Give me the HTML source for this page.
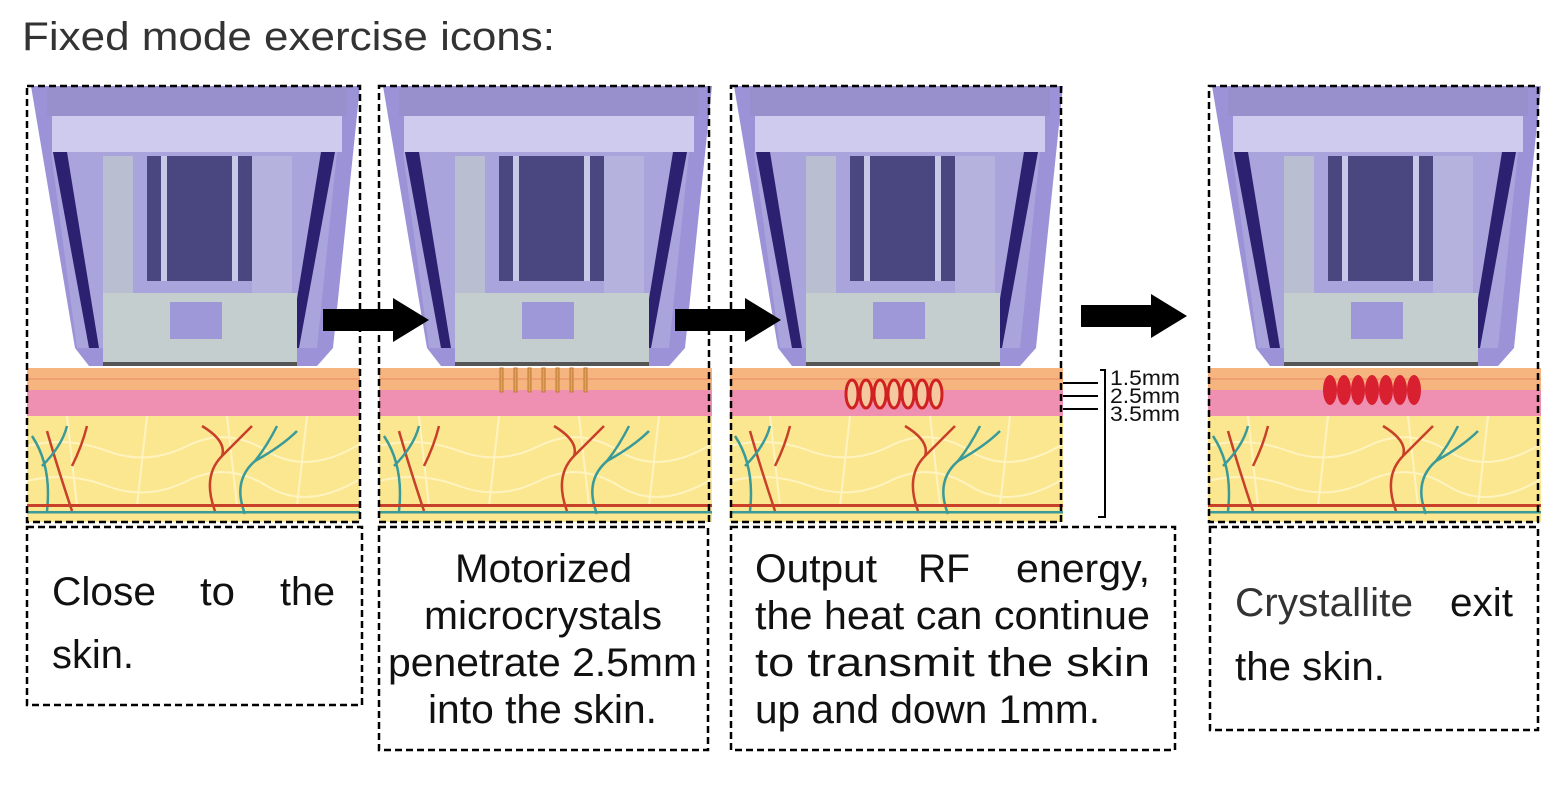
<!DOCTYPE html>
<html><head><meta charset="utf-8"><style>
html,body{margin:0;padding:0;background:#fff;}
body{width:1552px;height:796px;overflow:hidden;position:relative;}
</style></head><body>
<svg width="1552" height="796" style="position:absolute;left:0;top:0">
<defs>
<g id="p">
<polygon points="0,0 333,0 333,282 0,282" fill="#fff"/>
<polygon points="4,0 333,0 306,262 290,280 62,280 48,262" fill="#9b92d8"/>
<rect x="20" y="0" width="300" height="30" fill="#9890cc"/>
<rect x="25" y="30" width="290" height="36" fill="#cfcbee"/>
<polygon points="24,66 310,66 290,262 50,262" fill="#aaa4dc"/>
<polygon points="26,66 40,66 72,262 62,262" fill="#2b2170"/>
<polygon points="308,66 294,66 262,262 272,262" fill="#2b2170"/>
<rect x="76" y="70" width="30" height="137" fill="#b9bfd0"/>
<rect x="120" y="70" width="105" height="125" fill="#4a4680"/>
<rect x="134" y="70" width="6" height="125" fill="#c8c8e8"/>
<rect x="205" y="70" width="6" height="125" fill="#c8c8e8"/>
<rect x="225" y="70" width="40" height="137" fill="#b6b2de"/>
<rect x="76" y="207" width="194" height="72" fill="#c4cece"/>
<rect x="76" y="276" width="194" height="4" fill="#555"/>
<rect x="143" y="216" width="52" height="37" fill="#9f98d8"/>
<rect x="0" y="282" width="333" height="22" fill="#f6b47e"/>
<rect x="0" y="292" width="333" height="2" fill="#f0a070"/>
<rect x="0" y="304" width="333" height="26" fill="#ef90b3"/>
<rect x="0" y="330" width="333" height="106" fill="#fbe790"/>
<g fill="none" stroke="#fff3c0" stroke-width="2">
<path d="M0,360 Q40,350 80,365 T160,360 T240,365 T333,358"/>
<path d="M0,395 Q40,385 80,400 T160,395 T240,400 T333,393"/>
<path d="M40,330 L50,420 M120,330 L110,420 M200,330 L210,420 M280,330 L270,420"/>
</g>
<g fill="none" stroke-width="2.5">
<path d="M45,425 Q30,380 20,345 M45,380 Q55,360 60,340" stroke="#c8402a"/>
<path d="M20,425 Q25,380 5,350 M15,380 Q35,360 40,340" stroke="#3a9a98"/>
<path d="M188,425 Q175,390 195,370 Q200,355 175,340 M195,370 Q210,355 225,340" stroke="#c8402a"/>
<path d="M218,428 Q205,395 228,375 Q240,360 250,340 M228,375 Q255,360 270,345" stroke="#3a9a98"/>
</g>
<rect x="0" y="418" width="333" height="3" fill="#c8402a"/>
<rect x="0" y="425" width="333" height="2.5" fill="#3a9a98"/>
</g>
<g id="ar"><rect x="0" y="-11" width="75" height="22" fill="#000"/><polygon points="70,-22 106,0 70,22" fill="#000"/></g>
</defs>
<use href="#p" x="27" y="86"/>
<use href="#p" x="379" y="86"/>
<use href="#p" x="730" y="86"/>
<use href="#p" x="1208" y="86"/>
<g fill="#e0a060" stroke="#c07a30" stroke-width="1">
<rect x="500" y="368" width="3" height="24"/><rect x="514" y="368" width="3" height="24"/><rect x="528" y="368" width="3" height="24"/><rect x="542" y="368" width="3" height="24"/><rect x="556" y="368" width="3" height="24"/><rect x="570" y="368" width="3" height="24"/><rect x="584" y="368" width="3" height="24"/>
</g>
<g fill="#f5c8a0" stroke="#d02020" stroke-width="3">
<ellipse cx="852" cy="394" rx="6" ry="14"/><ellipse cx="866" cy="394" rx="6" ry="14"/><ellipse cx="880" cy="394" rx="6" ry="14"/><ellipse cx="894" cy="394" rx="6" ry="14"/><ellipse cx="908" cy="394" rx="6" ry="14"/><ellipse cx="922" cy="394" rx="6" ry="14"/><ellipse cx="936" cy="394" rx="6" ry="14"/>
</g>
<g fill="#d82030">
<ellipse cx="1330" cy="390" rx="7" ry="15"/><ellipse cx="1344" cy="390" rx="7" ry="15"/><ellipse cx="1358" cy="390" rx="7" ry="15"/><ellipse cx="1372" cy="390" rx="7" ry="15"/><ellipse cx="1386" cy="390" rx="7" ry="15"/><ellipse cx="1400" cy="390" rx="7" ry="15"/><ellipse cx="1414" cy="390" rx="7" ry="15"/>
</g>
<g fill="none" stroke="#000" stroke-width="2.5" stroke-dasharray="7,4">
<rect x="27" y="86" width="333" height="436"/>
<rect x="379" y="86" width="330" height="436"/>
<rect x="731" y="86" width="330" height="436"/>
<rect x="1209" y="86" width="329" height="436"/>
<rect x="27" y="527" width="335" height="178"/>
<rect x="379" y="527" width="329" height="223"/>
<rect x="731" y="527" width="444" height="223"/>
<rect x="1210" y="527" width="328" height="203"/>
</g>
<g stroke="#000" stroke-width="2" fill="none">
<path d="M1063,383 H1098 M1063,396 H1098 M1063,409 H1098 M1100,370 H1105 V517 H1098"/>
</g>
<g font-family="Liberation Sans,sans-serif" font-size="21" fill="#111">
<text x="1110" y="385" textLength="70" lengthAdjust="spacingAndGlyphs">1.5mm</text>
<text x="1110" y="403" textLength="70" lengthAdjust="spacingAndGlyphs">2.5mm</text>
<text x="1110" y="421" textLength="70" lengthAdjust="spacingAndGlyphs">3.5mm</text>
</g>
<use href="#ar" x="323" y="320"/>
<use href="#ar" x="675" y="320"/>
<use href="#ar" x="1081" y="316"/>
<text x="22" y="50" font-family="Liberation Sans,sans-serif" font-size="40" fill="#333" textLength="533" lengthAdjust="spacingAndGlyphs">Fixed mode exercise icons:</text>
<g font-family="Liberation Sans,sans-serif" font-size="40" fill="#111">
<text x="52" y="605" textLength="104" lengthAdjust="spacingAndGlyphs">Close</text>
<text x="200" y="605" textLength="35" lengthAdjust="spacingAndGlyphs">to</text>
<text x="280" y="605" textLength="55" lengthAdjust="spacingAndGlyphs">the</text>
<text x="52" y="668" textLength="82" lengthAdjust="spacingAndGlyphs">skin.</text>

<text x="455" y="582" textLength="177" lengthAdjust="spacingAndGlyphs">Motorized</text>
<text x="424" y="629" textLength="238" lengthAdjust="spacingAndGlyphs">microcrystals</text>
<text x="388" y="676" textLength="309" lengthAdjust="spacingAndGlyphs">penetrate 2.5mm</text>
<text x="428" y="723" textLength="229" lengthAdjust="spacingAndGlyphs">into the skin.</text>

<text x="755" y="582" textLength="122" lengthAdjust="spacingAndGlyphs">Output</text>
<text x="918" y="582" textLength="52" lengthAdjust="spacingAndGlyphs">RF</text>
<text x="1016" y="582" textLength="134" lengthAdjust="spacingAndGlyphs">energy,</text>
<text x="755" y="629" textLength="395" lengthAdjust="spacingAndGlyphs">the heat can continue</text>
<text x="755" y="676" textLength="395" lengthAdjust="spacingAndGlyphs">to  transmit  the  skin</text>
<text x="755" y="723" textLength="345" lengthAdjust="spacingAndGlyphs">up and down 1mm.</text>

<text x="1235" y="616" textLength="178" lengthAdjust="spacingAndGlyphs" fill="#333">Crystallite</text>
<text x="1450" y="616" textLength="63" lengthAdjust="spacingAndGlyphs">exit</text>
<text x="1235" y="680" textLength="150" lengthAdjust="spacingAndGlyphs">the skin.</text>
</g>
</svg>
</body></html>
